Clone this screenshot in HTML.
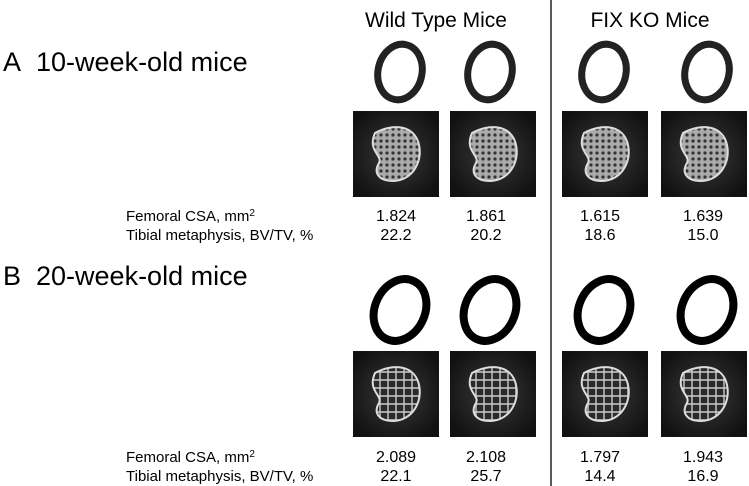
<!DOCTYPE html>
<html><head><meta charset="utf-8"><style>
body{margin:0;width:749px;height:486px;background:#fff;overflow:hidden;font-family:"Liberation Sans",sans-serif;color:#222}
svg{position:absolute;left:0;top:0}
</style></head><body>
<svg width="749" height="486" viewBox="0 0 749 486">
<defs>
<radialGradient id="bg" cx="50%" cy="50%" r="60%"><stop offset="0" stop-color="#3a3a3a"/><stop offset="1" stop-color="#111"/></radialGradient>
<pattern id="trab" width="6" height="6" patternUnits="userSpaceOnUse"><rect width="6" height="6" fill="#aaa"/><circle cx="3" cy="3" r="1.6" fill="#333"/></pattern>
<pattern id="trab2" width="8" height="8" patternUnits="userSpaceOnUse"><rect width="8" height="8" fill="#2a2a2a"/><path d="M0 4H8M4 0V8" stroke="#ccc" stroke-width="1.4"/></pattern>
</defs>
<text x="436" y="27" font-size="21" text-anchor="middle">Wild Type Mice</text>
<text x="650" y="27" font-size="21" text-anchor="middle">FIX KO Mice</text>
<line x1="551" y1="0" x2="551" y2="486" stroke="#222" stroke-width="1.5"/>
<text x="3" y="71" font-size="27">A&#160;&#160;10-week-old mice</text>
<text x="3" y="285" font-size="27">B&#160;&#160;20-week-old mice</text>
<g id="content"></g>
</svg>
<script>
const cols=[396,486,600,703];
const panels=[
 {ringY:72,rx:22,ry:28,sw:7,sqY:111,csa:["1.824","1.861","1.615","1.639"],bv:["22.2","20.2","18.6","15.0"],ly1:221,ly2:240,pat:"trab"},
 {ringY:310,rx:25,ry:32,sw:8,sqY:351,csa:["2.089","2.108","1.797","1.943"],bv:["22.1","25.7","14.4","16.9"],ly1:462,ly2:481,pat:"trab2"}
];
const sqX=[353,450,562,661];
const g=document.getElementById('content');
const NS='http://www.w3.org/2000/svg';
function el(t,a,txt){const e=document.createElementNS(NS,t);for(const k in a)e.setAttribute(k,a[k]);if(txt)e.textContent=txt;g.appendChild(e);return e;}
panels.forEach((p,pi)=>{
 cols.forEach((cx,i)=>{
  const r=el('ellipse',{cx:cx+4,cy:p.ringY,rx:p.rx,ry:p.ry,fill:'none',stroke:pi?'#000':'#222','stroke-width':p.sw,transform:`rotate(${pi?25:12} ${cx+4} ${p.ringY})`});
  
  
  const s=el('rect',{x:sqX[i],y:p.sqY,width:86,height:86,fill:'url(#bg)'});
  
  
  const x=sqX[i],y=p.sqY;
  const b=el('path',{d:`M${x+22} ${y+22} C${x+40} ${y+12} ${x+62} ${y+14} ${x+66} ${y+34} C${x+70} ${y+52} ${x+58} ${y+70} ${x+40} ${y+70} C${x+26} ${y+70} ${x+20} ${y+62} ${x+26} ${y+52} C${x+30} ${y+44} ${x+14} ${y+40} ${x+22} ${y+22}Z`,fill:`url(#${p.pat})`,stroke:'#ddd','stroke-width':2});
  
  
  const t1=el('text',{x:cx,y:p.ly1,'font-size':16,'text-anchor':'middle'},p.csa[i]);
  
  
  const t2=el('text',{x:cx,y:p.ly2,'font-size':16,'text-anchor':'middle'},p.bv[i]);
  
  
 });
 const l1=el('text',{x:126,y:p.ly1,'font-size':15},'Femoral CSA, mm');
 const sup=document.createElementNS(NS,'tspan');sup.setAttribute('dy','-5');sup.setAttribute('font-size','10');sup.textContent='2';l1.appendChild(sup);
 
 
 const l2=el('text',{x:126,y:p.ly2,'font-size':15},'Tibial metaphysis, BV/TV, %');
 
 
});
</script>
</body></html>
